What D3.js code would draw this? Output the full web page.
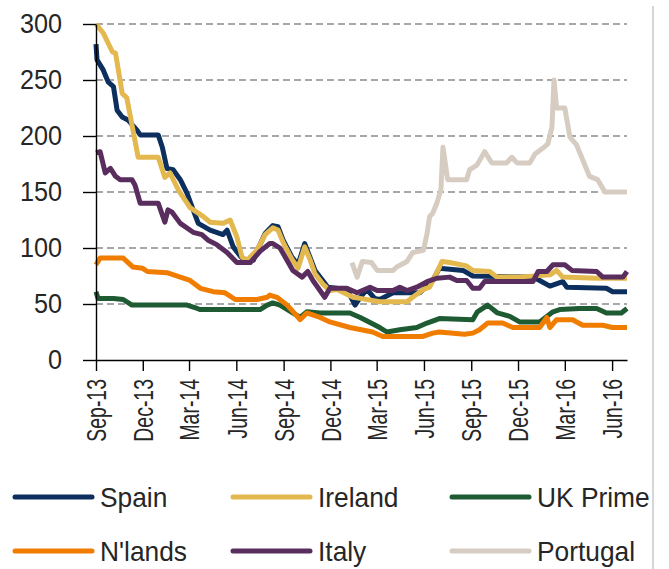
<!DOCTYPE html>
<html>
<head>
<meta charset="utf-8">
<script src="https://cdn.jsdelivr.net/npm/d3@7"></script>
<style>
  body { margin: 0; background: #fff; }
  svg { display: block; font-family: 'Liberation Sans', Arial, sans-serif; }
  .grid line { stroke: #8c8c8c; stroke-width: 1.3; stroke-dasharray: 7 4; }
  .axis path, .axis line { stroke: #000; stroke-width: 1.4; }
  .axis text { fill: #262626; }
  .series { fill: none; stroke-width: 5; stroke-linejoin: round; }
</style>
</head>
<body>
<svg width="669" height="569"></svg>
<script>
// quarter tick labels and y ticks
const tickLabels = ['Sep-13', 'Dec-13', 'Mar-14', 'Jun-14', 'Sep-14', 'Dec-14',
  'Mar-15', 'Jun-15', 'Sep-15', 'Dec-15', 'Mar-16', 'Jun-16'];
const yTicks = [0, 50, 100, 150, 200, 250, 300];

// series values: [date, value]
const spain = [['2013-09-01',282],['2013-09-03',268],['2013-09-15',259],['2013-09-25',248],['2013-10-05',244],['2013-10-12',223],['2013-10-22',217],['2013-11-03',214],['2013-11-20',205],['2013-11-26',201],['2013-12-31',201],['2014-01-08',190],['2014-01-17',171],['2014-01-29',170],['2014-02-12',161],['2014-02-25',149],['2014-03-09',134],['2014-03-19',122],['2014-04-11',116],['2014-05-06',112],['2014-05-14',116],['2014-05-26',101],['2014-06-10',92],['2014-06-20',88],['2014-07-04',89],['2014-07-15',101],['2014-07-27',113],['2014-08-11',120],['2014-08-21',119],['2014-08-31',107],['2014-09-17',92],['2014-09-29',85],['2014-10-12',104],['2014-10-22',92],['2014-11-01',80],['2014-11-16',71],['2014-11-26',65],['2015-01-02',63],['2015-01-18',49],['2015-01-28',56],['2015-02-10',63],['2015-02-25',55],['2015-03-07',54],['2015-04-02',60],['2015-05-24',60],['2015-06-18',71],['2015-07-01',82],['2015-08-16',80],['2015-09-04',75],['2015-12-30',74],['2016-01-12',71],['2016-02-01',66],['2016-02-26',70],['2016-03-05',65],['2016-05-21',64],['2016-06-02',61],['2016-06-30',61]];
const ireland = [['2013-09-01',300],['2013-09-15',292],['2013-10-03',275],['2013-10-09',274],['2013-10-22',238],['2013-10-31',234],['2013-11-12',205],['2013-11-22',181],['2013-12-31',181],['2014-01-13',163],['2014-01-23',167],['2014-02-08',152],['2014-03-03',136],['2014-03-29',128],['2014-04-11',123],['2014-05-06',122],['2014-05-20',125],['2014-06-02',110],['2014-06-12',92],['2014-06-22',89],['2014-07-11',98],['2014-07-27',112],['2014-08-11',118],['2014-08-21',116],['2014-08-31',105],['2014-09-17',90],['2014-09-29',82],['2014-10-12',101],['2014-10-22',90],['2014-11-01',77],['2014-11-16',68],['2014-11-30',62],['2014-12-14',63],['2015-01-14',56],['2015-01-28',55],['2015-03-07',52],['2015-04-29',52],['2015-05-10',56],['2015-05-31',63],['2015-06-12',65],['2015-06-26',78],['2015-07-06',88],['2015-07-21',87],['2015-08-23',84],['2015-09-04',80],['2015-10-07',79],['2015-10-21',74],['2015-11-29',74],['2016-02-01',76],['2016-02-14',80],['2016-02-26',74],['2016-05-02',73],['2016-06-30',73]];
const ukPrime = [['2013-09-01',61],['2013-09-05',55],['2013-10-05',55],['2013-10-24',54],['2013-11-10',49],['2014-02-25',49],['2014-03-17',46],['2014-03-23',45],['2014-07-17',45],['2014-07-31',49],['2014-08-11',51],['2014-08-25',49],['2014-10-03',38],['2014-10-16',43],['2014-11-11',42],['2015-01-08',42],['2015-01-28',38],['2015-03-07',29],['2015-03-21',25],['2015-04-15',27],['2015-05-18',29],['2015-06-07',33],['2015-07-01',37],['2015-09-04',36],['2015-09-13',43],['2015-10-03',49],['2015-10-22',42],['2015-11-15',39],['2015-12-04',34],['2016-01-12',34],['2016-02-07',43],['2016-02-20',45],['2016-03-30',46],['2016-05-02',46],['2016-05-21',42],['2016-06-19',42],['2016-06-30',46]];
const nlands = [['2013-09-01',85],['2013-09-09',91],['2013-10-24',91],['2013-11-12',83],['2013-11-30',82],['2013-12-10',79],['2014-01-17',78],['2014-02-12',74],['2014-03-03',71],['2014-03-23',64],['2014-04-17',61],['2014-05-10',60],['2014-05-30',54],['2014-07-11',54],['2014-07-31',56],['2014-08-05',58],['2014-08-19',56],['2014-09-08',49],['2014-10-03',36],['2014-10-16',42],['2014-11-11',38],['2014-11-30',34],['2015-01-08',29],['2015-02-21',25],['2015-03-13',21],['2015-05-30',21],['2015-06-18',24],['2015-07-01',25],['2015-08-19',23],['2015-09-04',24],['2015-09-17',27],['2015-10-03',33],['2015-11-01',33],['2015-11-21',29],['2016-01-12',29],['2016-01-26',38],['2016-02-01',29],['2016-02-14',36],['2016-03-16',36],['2016-04-05',31],['2016-05-14',31],['2016-06-02',29],['2016-06-30',29]];
const italy = [['2013-09-01',185],['2013-09-09',186],['2013-09-19',167],['2013-09-29',171],['2013-10-09',164],['2013-10-18',161],['2013-11-10',161],['2013-11-16',156],['2013-11-26',140],['2013-12-31',140],['2014-01-13',123],['2014-01-19',134],['2014-01-27',132],['2014-02-12',122],['2014-03-09',114],['2014-03-26',112],['2014-04-07',107],['2014-04-24',103],['2014-05-14',96],['2014-06-02',87],['2014-06-28',87],['2014-07-17',97],['2014-08-05',104],['2014-08-11',104],['2014-08-25',100],['2014-09-19',80],['2014-10-07',74],['2014-10-18',79],['2014-10-28',71],['2014-11-20',56],['2014-11-30',64],['2015-01-02',64],['2015-01-22',60],['2015-02-16',65],['2015-03-02',62],['2015-04-02',62],['2015-04-15',65],['2015-04-29',62],['2015-05-18',65],['2015-06-07',70],['2015-06-26',73],['2015-07-21',74],['2015-08-04',71],['2015-08-23',71],['2015-09-04',64],['2015-09-17',64],['2015-09-27',70],['2015-12-30',70],['2016-01-09',79],['2016-01-26',79],['2016-02-07',85],['2016-03-01',85],['2016-03-15',80],['2016-05-02',79],['2016-05-14',74],['2016-06-22',74],['2016-06-30',79]];
const portugal = [['2015-01-12',87],['2015-01-22',74],['2015-02-01',88],['2015-02-19',87],['2015-03-02',80],['2015-04-02',80],['2015-04-09',83],['2015-04-29',88],['2015-05-10',96],['2015-05-31',98],['2015-06-07',113],['2015-06-12',128],['2015-06-18',131],['2015-06-26',140],['2015-07-04',152],['2015-07-08',190],['2015-07-17',161],['2015-08-23',161],['2015-08-29',170],['2015-09-12',174],['2015-09-27',186],['2015-10-11',176],['2015-11-09',176],['2015-11-19',181],['2015-11-29',176],['2015-12-24',176],['2016-01-03',184],['2016-01-18',189],['2016-01-28',193],['2016-02-05',208],['2016-02-09',250],['2016-02-14',225],['2016-03-01',225],['2016-03-11',199],['2016-03-24',192],['2016-04-18',164],['2016-05-04',161],['2016-05-18',150],['2016-06-30',150]];

const seriesNames = ['Spain', 'Ireland', 'UK Prime', "N'lands", 'Italy', 'Portugal'];
const seriesValues = [spain, ireland, ukPrime, nlands, italy, portugal];
const seriesColors = ['#0d2f5e', '#e3b94f', '#1e5b32', '#f07d00', '#5a2d5f', '#d6ccc2'];

const parseDate = d3.timeParse('%Y-%m-%d');
const parseTick = d3.timeParse('%b-%y');

const svg = d3.select('svg');

const x = d3.scaleTime()
    .domain([parseDate('2013-09-01'), parseDate('2016-06-30')])
    .range([96, 627]);
const y = d3.scaleLinear()
    .domain([0, 300])
    .range([360, 24]);

// squeeze text a bit, the original font is narrower than Arial
function squeeze(sel, k) {
  sel.each(function() {
    const w = this.getComputedTextLength();
    d3.select(this).attr('textLength', w * k).attr('lengthAdjust', 'spacingAndGlyphs');
  });
}

// dashed gridlines
svg.append('g')
    .attr('class', 'grid')
  .selectAll('line')
  .data(yTicks.filter(d => d > 0))
  .join('line')
    .attr('x1', x.range()[0])
    .attr('x2', x.range()[1])
    .attr('y1', d => y(d))
    .attr('y2', d => y(d));

// right frame edge
svg.append('line')
    .attr('x1', 653).attr('x2', 653)
    .attr('y1', 6).attr('y2', 569)
    .attr('stroke', '#c8c8c8')
    .attr('stroke-width', 1.5);

// series lines
const line = d3.line()
    .x(d => x(parseDate(d[0])))
    .y(d => y(d[1]));

svg.append('g')
  .selectAll('path')
  .data(seriesValues)
  .join('path')
    .attr('class', 'series')
    .attr('stroke', (d, i) => seriesColors[i])
    .attr('d', line);

// axes
const yAxis = svg.append('g')
    .attr('class', 'axis')
    .attr('transform', 'translate(' + x.range()[0] + ',0)')
    .call(d3.axisLeft(y).tickValues(yTicks).tickSize(13).tickSizeOuter(0).tickPadding(21));
yAxis.selectAll('text')
    .attr('font-size', 28)
    .call(squeeze, 0.9);

const xAxis = svg.append('g')
    .attr('class', 'axis')
    .attr('transform', 'translate(0,' + y(0) + ')')
    .call(d3.axisBottom(x)
      .tickValues(tickLabels.map(parseTick))
      .tickFormat(d3.timeFormat('%b-%y'))
      .tickSize(11)
      .tickSizeOuter(0));
xAxis.selectAll('text')
    .attr('font-size', 27)
    .attr('text-anchor', 'end')
    .attr('transform', 'rotate(-90)')
    .attr('x', -19)
    .attr('y', 0)
    .attr('dy', '0.36em')
    .call(squeeze, 0.72);
svg.selectAll('.axis').attr('font-family', null).attr('font-size', null);

// legend
const legendCols = [15, 233, 452];
const legendRows = [497, 551];
const legend = svg.append('g')
  .selectAll('g')
  .data(seriesNames)
  .join('g')
    .attr('transform', (d, i) => 'translate(' + legendCols[i % 3] + ',' + legendRows[Math.floor(i / 3)] + ')');
legend.append('line')
    .attr('x1', 0).attr('x2', 77)
    .attr('stroke', (d, i) => seriesColors[i])
    .attr('stroke-width', 5)
    .attr('stroke-linecap', 'round');
legend.append('text')
    .attr('x', 85)
    .attr('dy', '0.36em')
    .attr('font-size', 28)
    .attr('fill', '#262626')
    .text(d => d)
    .call(squeeze, 0.94);
</script>
</body>
</html>
